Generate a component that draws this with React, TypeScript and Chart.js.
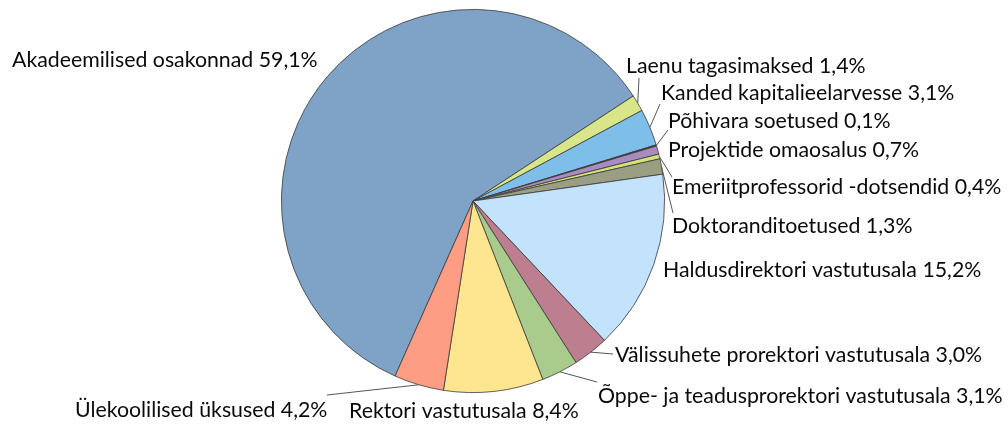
import React, { useEffect, useRef } from "react";
import { Chart, registerables } from "chart.js";

Chart.register(...registerables);

const categories = [
  "Akadeemilised osakonnad",
  "Laenu tagasimaksed",
  "Kanded kapitalieelarvesse",
  "Põhivara soetused",
  "Projektide omaosalus",
  "Emeriitprofessorid -dotsendid",
  "Doktoranditoetused",
  "Haldusdirektori vastutusala",
  "Välissuhete prorektori vastutusala",
  "Õppe- ja teadusprorektori vastutusala",
  "Rektori vastutusala",
  "Ülekoolilised üksused",
];

const shares = [59.1, 1.4, 3.1, 0.1, 0.7, 0.4, 1.3, 15.2, 3.0, 3.1, 8.4, 4.2];

const colors = [
  "#7ea3c6",
  "#d8e689",
  "#7dbfe9",
  "#7a2d3e",
  "#a88cbf",
  "#d5e27c",
  "#9a9e83",
  "#c2e3fb",
  "#bd7e8f",
  "#a9cc8d",
  "#fde68f",
  "#fd9d83",
];

// label layout: text left-middle position, optional leader-line end
const labelPos: [number, number][] = [
  [12, 60],
  [626, 66],
  [661, 93],
  [668, 121],
  [668, 150],
  [672, 187],
  [672, 226],
  [663, 270],
  [615, 355],
  [598, 396],
  [349, 411],
  [75, 410],
];

const leaderEnd: ([number, number] | null)[] = [
  null,
  [639, 78],
  [660, 104],
  [668, 130],
  null,
  [672, 177],
  [673, 213],
  null,
  [613, 354],
  [597, 382],
  null,
  [327, 395],
];

const FONT = '21.3px Lato';

const outerLabels = {
  id: "outerLabels",
  afterDatasetsDraw(chart: any) {
    const ctx = chart.ctx;
    const meta = chart.getDatasetMeta(0);
    ctx.save();
    meta.data.forEach((arc: any, i: number) => {
      const p = arc.getProps(["x", "y", "startAngle", "endAngle", "outerRadius"], true);
      const mid = (p.startAngle + p.endAngle) / 2;
      const ax = p.x + Math.cos(mid) * p.outerRadius;
      const ay = p.y + Math.sin(mid) * p.outerRadius;
      const end = leaderEnd[i];
      if (end) {
        ctx.beginPath();
        ctx.strokeStyle = "#555555";
        ctx.lineWidth = 1;
        ctx.moveTo(ax, ay);
        ctx.lineTo(end[0], end[1]);
        ctx.stroke();
      }
      const txt = `${categories[i]} ${shares[i].toFixed(1).replace(".", ",")}%`;
      ctx.font = FONT;
      ctx.fillStyle = "#0a0a0a";
      ctx.textBaseline = "middle";
      ctx.textAlign = "left";
      ctx.fillText(txt, labelPos[i][0], labelPos[i][1]);
    });
    ctx.restore();
  },
};

export default function App() {
  const ref = useRef<HTMLCanvasElement | null>(null);
  useEffect(() => {
    if (!ref.current) return;
    const chart = new Chart(ref.current, {
      type: "pie",
      data: {
        labels: categories,
        datasets: [
          {
            data: shares,
            backgroundColor: colors,
            borderColor: "#3a3a3a",
            borderWidth: 0.8,
          },
        ],
      },
      options: {
        animation: false,
        responsive: true,
        maintainAspectRatio: false,
        rotation: -156,
        layout: { padding: { left: 281, right: 343, top: 9, bottom: 32 } },
        plugins: {
          legend: { display: false },
          tooltip: { enabled: false },
        },
      },
      plugins: [outerLabels],
    });
    return () => chart.destroy();
  }, []);
  return (
    <div style={{ position: "fixed", left: 0, top: 0, width: 1008, height: 425, background: "#fff" }}>
      <canvas ref={ref} />
    </div>
  );
}
